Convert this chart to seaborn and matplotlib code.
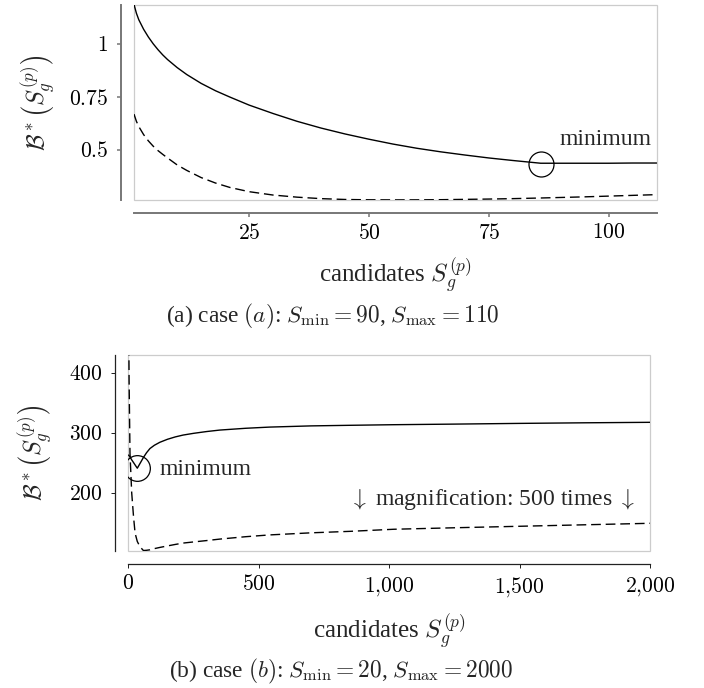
import matplotlib
matplotlib.use("Agg")
import matplotlib.pyplot as plt
import seaborn as sns
from matplotlib.patches import Rectangle

# ---------------- data: case (a) ----------------
cand_a = [1, 1.5, 2, 3, 4, 5, 6, 7, 8, 10, 12, 15, 18, 21, 25, 30, 35, 40, 45,
          50, 55, 60, 65, 70, 75, 80, 85.8, 90, 95, 100, 105, 110]
bound_a = [1.19, 1.148, 1.117, 1.072, 1.035, 1.003, 0.975, 0.95, 0.928, 0.89,
           0.857, 0.815, 0.78, 0.75, 0.712, 0.672, 0.635, 0.603, 0.575, 0.55,
           0.527, 0.507, 0.49, 0.475, 0.461, 0.449, 0.436, 0.436, 0.436, 0.436,
           0.437, 0.437]
aux_a = [0.669, 0.635, 0.61, 0.572, 0.542, 0.517, 0.496, 0.478, 0.461, 0.428,
         0.402, 0.368, 0.342, 0.321, 0.301, 0.285, 0.275, 0.268, 0.264, 0.2625,
         0.262, 0.2622, 0.263, 0.2645, 0.266, 0.268, 0.271, 0.2735, 0.2765,
         0.280, 0.2835, 0.287]
min_a = (85.8, 0.432)
xticks_a = [25, 50, 75, 100]
xticklabels_a = ["25", "50", "75", "100"]
yticks_a = [0.5, 0.75, 1]
yticklabels_a = ["0.5", "0.75", "1"]

# ---------------- data: case (b) ----------------
cand_b = [1, 3, 6.5, 13, 20, 26, 34.5, 45, 58, 70, 83, 100, 121, 150, 180, 210,
          250, 300, 351, 450, 542, 700, 850, 1018, 1250, 1500, 1750, 2000]
bound_b = [263, 262, 260, 255, 250.5, 246.5, 241, 249, 259, 267, 274, 279.5,
           284.5, 289.5, 293.5, 296.6, 299.5, 302.5, 305, 308, 310, 312, 313,
           314, 315, 316.2, 317.2, 318]
aux_b = [520, 390, 266, 200, 160, 132, 118, 109, 102.8, 103.2, 104, 106, 108,
         110.5, 113, 115.3, 117.2, 119.5, 122, 126, 129, 132.5, 135, 138.5, 141,
         143.5, 146, 148.5]
min_b = (34.5, 241)
xticks_b = [0, 500, 1000, 1500, 2000]
xticklabels_b = ["0", "500", "1,000", "1,500", "2,000"]
yticks_b = [200, 300, 400]
yticklabels_b = ["200", "300", "400"]

# ---------------- style ----------------
sns.set_theme(style="ticks")
plt.rcParams["font.family"] = ["Liberation Serif", "DejaVu Serif"]
plt.rcParams["mathtext.fontset"] = "cm"
plt.rcParams["lines.scale_dashes"] = False

fig = plt.figure(figsize=(7.04, 6.88), dpi=100)
ax_a = fig.add_axes([0.19034, 0.70930, 0.74247, 0.28343])
ax_b = fig.add_axes([0.18224, 0.19956, 0.74105, 0.28445])

DASH = (0, (7, 3.5))
TEXT_FS = 17
XLABEL_FS = 18
YLABEL_FS = 17.5
TICK_FS = 15.5
CAPTION_FS = 16.8


def mlabel(s):
    return "$" + s.replace(",", "{,}") + "$"


def style_axes(ax, spine_color, spine_lw):
    sns.despine(ax=ax, offset=9.4)
    for side in ("left", "bottom"):
        ax.spines[side].set_color(spine_color)
        ax.spines[side].set_linewidth(spine_lw)
    ax.tick_params(axis="both", direction="out", length=3.2, width=spine_lw * 0.8,
                   color=spine_color, labelsize=TICK_FS, labelcolor="black")
    ax.tick_params(axis="x", pad=5)
    ax.tick_params(axis="y", pad=6)
    ax.add_patch(Rectangle((0, 0), 1, 1, transform=ax.transAxes, fill=False,
                           ec="#cccccc", lw=0.9, zorder=0.5, clip_on=False))


# ---------------- panel (a) ----------------
sns.lineplot(x=cand_a, y=bound_a, color="black", lw=1.0, ax=ax_a)
sns.lineplot(x=cand_a, y=aux_a, color="black", lw=1.0, linestyle=DASH, ax=ax_a)
ax_a.plot([min_a[0]], [min_a[1]], marker="o", ms=18, mfc="none", mec="black",
          mew=0.9, zorder=5)
ax_a.set_xlim(1, 110)
ax_a.set_ylim(0.2615, 1.187)
ax_a.set_xticks(xticks_a, labels=[mlabel(s) for s in xticklabels_a])
ax_a.set_yticks(yticks_a, labels=[mlabel(s) for s in yticklabels_a])
style_axes(ax_a, "#777777", 1.4)
ax_a.text(89.8, 0.547, "minimum", ha="left", va="center", fontsize=TEXT_FS)
ax_a.set_xlabel(r"candidates $S_g^{(p)}$", fontsize=XLABEL_FS, va="top")
ax_a.xaxis.set_label_coords(0.5, -0.287)
ax_a.set_ylabel(r"$\mathcal{B}^*\left(S_g^{(p)}\right)$", fontsize=YLABEL_FS, va="center")
ax_a.yaxis.set_label_coords(-0.184, 0.5)

# ---------------- panel (b) ----------------
sns.lineplot(x=cand_b, y=bound_b, color="black", lw=1.0, ax=ax_b)
sns.lineplot(x=cand_b, y=aux_b, color="black", lw=1.0, linestyle=DASH, ax=ax_b)
ax_b.plot([min_b[0]], [min_b[1]], marker="o", ms=18.5, mfc="none", mec="black",
          mew=0.9, zorder=5)
ax_b.set_xlim(0, 2000)
ax_b.set_ylim(102.5, 431)
ax_b.set_xticks(xticks_b, labels=[mlabel(s) for s in xticklabels_b])
ax_b.set_yticks(yticks_b, labels=[mlabel(s) for s in yticklabels_b])
style_axes(ax_b, "#222222", 0.9)
ax_b.text(121.5, 238, "minimum", ha="left", va="center", fontsize=TEXT_FS)
ax_b.text(1942, 187.8, r"$\downarrow$ magnification: 500 times $\downarrow$",
          ha="right", va="center", fontsize=TEXT_FS)
ax_b.set_xlabel(r"candidates $S_g^{(p)}$", fontsize=XLABEL_FS, va="top")
ax_b.xaxis.set_label_coords(0.5, -0.312)
ax_b.set_ylabel(r"$\mathcal{B}^*\left(S_g^{(p)}\right)$", fontsize=YLABEL_FS, va="center")
ax_b.yaxis.set_label_coords(-0.178, 0.5)

# ---------------- captions ----------------
fig.text(332.5 / 704, 1 - 322.7 / 688,
         r"(a) case $(a)$: $S_{\mathrm{min}} = 90$, $S_{\mathrm{max}} = 110$",
         ha="center", va="baseline", fontsize=CAPTION_FS)
fig.text(341 / 704, 1 - 677.3 / 688,
         r"(b) case $(b)$: $S_{\mathrm{min}} = 20$, $S_{\mathrm{max}} = 2000$",
         ha="center", va="baseline", fontsize=CAPTION_FS)

fig.savefig("out.png", dpi=100)
